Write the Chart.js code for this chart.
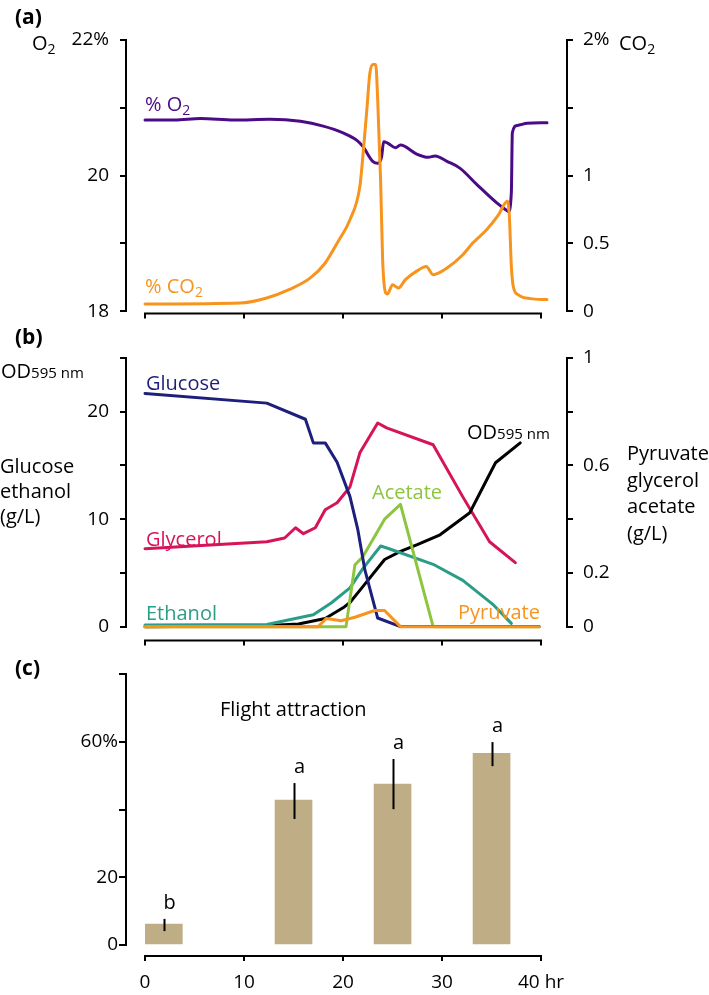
<!DOCTYPE html>
<html>
<head>
<meta charset="utf-8">
<script src="https://cdn.jsdelivr.net/npm/chart.js@4.4.1/dist/chart.umd.min.js"></script>
<style>
body { margin: 0; background: #fff; }
#wrap { position: relative; width: 709px; height: 995px; font-family: 'Open Sans', sans-serif; color: #000; overflow: hidden; }
canvas { position: absolute; left: 0; }
.t { position: absolute; line-height: 1; white-space: nowrap; transform: translateY(-50%); font-size: 20px; }
.b { font-weight: bold; font-size: 21px; }
sub { font-size: 0.7em; vertical-align: -0.3em; line-height: 0; }
.sm { font-size: 15px; }
</style>
</head>
<body>
<div id="wrap">
  <canvas id="chartA" width="709" height="335" style="top:0"></canvas>
  <canvas id="chartB" width="709" height="332" style="top:330px"></canvas>
  <canvas id="chartC" width="709" height="345" style="top:650px"></canvas>

  <div class="t b" style="left:15px;top:16px">(a)</div>
  <div class="t" style="left:32px;top:43px">O<sub>2</sub></div>
  <div class="t" style="left:619px;top:43px">CO<sub>2</sub></div>
  <div class="t" style="left:145px;top:104px;color:#4b0b86">% O<sub>2</sub></div>
  <div class="t" style="left:145px;top:286px;color:#f7941d">% CO<sub>2</sub></div>

  <div class="t b" style="left:15px;top:336px">(b)</div>
  <div class="t" style="left:1px;top:371px">OD<span class="sm">595 nm</span></div>
  <div class="t" style="left:0;top:490px;line-height:25px">Glucose<br>ethanol<br>(g/L)</div>
  <div class="t" style="left:146px;top:383px;color:#1e1f7c">Glucose</div>
  <div class="t" style="left:146px;top:539px;color:#d6145a">Glycerol</div>
  <div class="t" style="left:146px;top:613px;color:#2a9d87">Ethanol</div>
  <div class="t" style="left:467px;top:432px">OD<span class="sm">595 nm</span></div>
  <div class="t" style="left:372px;top:492px;color:#8cc63f">Acetate</div>
  <div class="t" style="left:458px;top:612px;color:#f7941d">Pyruvate</div>
  <div class="t" style="left:627px;top:493px;line-height:26.7px">Pyruvate<br>glycerol<br>acetate<br>(g/L)</div>

  <div class="t b" style="left:15px;top:667px">(c)</div>
  <div class="t" style="left:220px;top:709px">Flight attraction</div>
</div>

<script>
// time axis (hr)
var hrTicks = [0, 10, 20, 30, 40];
var hrLabelsC = ['0', '10', '20', '30', '40 hr'];

// (a) headspace gas
var tO2 = [0, 3, 5.6, 9, 12.6, 15.7, 18, 20, 21.4, 22, 23, 23.5, 23.9, 24.1, 24.5, 25.3, 25.8, 27.4, 28.6, 29.3, 30.5, 31.8, 33.5, 35.5, 36.4, 36.7, 37, 37.1, 37.6, 38.6, 40.6];
var pctO2 = [20.82, 20.82, 20.84, 20.82, 20.83, 20.8, 20.73, 20.63, 20.52, 20.43, 20.21, 20.18, 20.28, 20.5, 20.48, 20.41, 20.45, 20.32, 20.27, 20.29, 20.21, 20.11, 19.87, 19.6, 19.5, 19.47, 19.75, 20.63, 20.74, 20.77, 20.78];
var tCO2 = [0, 9.6, 12.3, 14.6, 16.7, 18.2, 19.5, 20.7, 21.7, 22.0, 22.4, 22.7, 23.0, 23.3, 23.5, 23.8, 24.0, 24.3, 24.5, 25.0, 25.6, 26.3, 27.4, 28.4, 29.1, 30.5, 32.1, 33.1, 34.5, 35.7, 36.6, 36.8, 37.0, 37.2, 37.7, 38.9, 40.6];
var pctCO2 = [0.053, 0.06, 0.097, 0.16, 0.245, 0.355, 0.514, 0.674, 0.92, 1.14, 1.48, 1.75, 1.82, 1.82, 1.56, 0.95, 0.38, 0.136, 0.127, 0.195, 0.171, 0.232, 0.293, 0.33, 0.269, 0.318, 0.416, 0.502, 0.6, 0.71, 0.81, 0.7, 0.33, 0.18, 0.12, 0.092, 0.085];
var o2Ticks = [18, 19, 20, 21, 22];
var o2Labels = ['18', '', '20', '', '22%'];
var co2Ticks = [0, 0.5, 1, 1.5, 2];
var co2Labels = ['0', '0.5', '1', '', '2%'];

// (b) metabolites
var tGlucose = [0, 12.3, 16.2, 17, 18.2, 19.4, 20.7, 21.5, 22.2, 23.5, 25.8, 39.8];
var glucose = [21.7, 20.8, 19.3, 17.1, 17.1, 15.3, 12.1, 9.0, 5.3, 0.8, 0, 0];
var tEthanol = [0, 12.3, 17, 18.8, 20.7, 22, 23.8, 24.8, 29.1, 32.1, 35.1, 37];
var ethanol = [0.15, 0.2, 1.1, 2.2, 3.6, 5.4, 7.5, 7.2, 5.8, 4.3, 2.1, 0.3];
var tGlycerol = [0, 12.3, 14.1, 15.2, 16, 17.2, 18.2, 19.4, 20.7, 21.7, 23.5, 24.4, 29.1, 32.1, 34.8, 37.4];
var glycerol = [0.29, 0.316, 0.33, 0.368, 0.346, 0.368, 0.435, 0.461, 0.52, 0.647, 0.758, 0.74, 0.677, 0.483, 0.316, 0.238];
var tOD = [0, 12, 15.5, 18.2, 20, 20.7, 22, 24.2, 25.8, 27.5, 29.8, 32.8, 35.4, 37.9];
var od595 = [0, 0.003, 0.01, 0.03, 0.07, 0.09, 0.149, 0.25, 0.28, 0.305, 0.342, 0.424, 0.61, 0.684];
var tAcetate = [0, 20.3, 21.2, 22, 24.2, 25.8, 29.1, 39.8];
var acetate = [0, 0, 0.23, 0.26, 0.4, 0.455, 0, 0];
var tPyruvate = [0, 17.5, 18.3, 19.8, 21.2, 23.2, 24.2, 25.8, 39.8];
var pyruvate = [0, 0, 0.03, 0.022, 0.035, 0.06, 0.06, 0, 0];
var gLTicks = [0, 5, 10, 15, 20, 25];
var gLLabels = ['0', '', '10', '', '20', ''];
var pyrTicks = [0, 0.2, 0.4, 0.6, 0.8, 1];
var pyrLabels = ['0', '0.2', '', '0.6', '', '1'];

// (c) flight attraction
var hrC = [1.9, 15, 25, 35];
var attraction = [6.2, 42.8, 47.5, 56.6];
var errLow = [4.1, 37.2, 40.1, 52.8];
var errHigh = [7.7, 47.8, 54.9, 59.9];
var sigLetters = ['b', 'a', 'a', 'a'];
var attTicks = [0, 20, 40, 60, 80];
var attLabels = ['0', '20', '', '60%', ''];

Chart.defaults.font.family = "'Open Sans', sans-serif";
Chart.defaults.font.size = 19;
Chart.defaults.color = '#000';

function pts(xs, ys) {
    return xs.map(function (x, i) { return { x: x, y: ys[i] }; });
}

// R-style axis lines, only between first and last tick
var axisLines = {
    id: 'axisLines',
    afterDraw: function (chart) {
        var ctx = chart.ctx;
        ctx.save();
        ctx.strokeStyle = '#000';
        ctx.lineWidth = 2;
        ctx.lineCap = 'square';
        Object.keys(chart.scales).forEach(function (id) {
            var s = chart.scales[id];
            var vals = s.ticks.map(function (t) { return t.value; });
            var a = s.getPixelForValue(Math.min.apply(null, vals));
            var b = s.getPixelForValue(Math.max.apply(null, vals));
            ctx.beginPath();
            if (s.isHorizontal()) {
                ctx.moveTo(a, s.top + 1); ctx.lineTo(b, s.top + 1);
            } else {
                var x = s.position == 'left' ? s.right - 1 : s.left + 1;
                ctx.moveTo(x, a); ctx.lineTo(x, b);
            }
            ctx.stroke();
        });
        ctx.restore();
    }
};

function xAxis(h, show, labels) {
    return {
        type: 'linear', min: -1.82, max: 42.52, offset: false,
        border: { display: false },
        grid: { drawOnChartArea: false, offset: false, tickLength: 6, color: '#000', lineWidth: 2 },
        afterBuildTicks: function (s) { s.ticks = hrTicks.map(function (v) { return { value: v }; }); },
        afterFit: function (s) { s.height = h; },
        ticks: { display: show, autoSkip: false, maxRotation: 0, padding: 10,
            callback: function (v, i) { return labels ? labels[i] : ''; } }
    };
}

function yAxis(pos, min, max, ticks, labels, w, tl, pad) {
    return {
        type: 'linear', position: pos, min: min, max: max,
        border: { display: false },
        grid: { drawOnChartArea: false, tickLength: tl, color: '#000', lineWidth: 2 },
        afterBuildTicks: function (s) { s.ticks = ticks.map(function (v) { return { value: v }; }); },
        afterFit: function (s) { s.width = w; },
        ticks: { autoSkip: false, padding: pad, callback: function (v, i) { return labels[i]; } }
    };
}

var baseOpts = {
    responsive: false,
    animation: false,
    plugins: { legend: { display: false }, tooltip: { enabled: false } },
    elements: { point: { radius: 0 } }
};

function line(data, color, axis, smooth) {
    return {
        data: data, yAxisID: axis, borderColor: color, borderWidth: 3,
        fill: false, pointRadius: 0, borderJoinStyle: 'round', borderCapStyle: 'round',
        tension: smooth ? 0.4 : 0, cubicInterpolationMode: smooth ? 'monotone' : 'default'
    };
}

new Chart('chartA', {
    type: 'line',
    data: {
        datasets: [
            line(pts(tCO2, pctCO2), '#f7941d', 'yR', true),
            line(pts(tO2, pctO2), '#4b0b86', 'yL', true)
        ]
    },
    options: Object.assign({}, baseOpts, {
        layout: { padding: { top: 40, bottom: 0, left: 0, right: 0 } },
        scales: {
            x: xAxis(22, false),
            yL: yAxis('left', 17.978, 22, o2Ticks, o2Labels, 127, 7, 11),
            yR: yAxis('right', -0.011, 2, co2Ticks, co2Labels, 143, 7, 10)
        }
    }),
    plugins: [axisLines]
});

new Chart('chartB', {
    type: 'line',
    data: {
        datasets: [
            line(pts(tPyruvate, pyruvate), '#f7941d', 'yR'),
            line(pts(tGlucose, glucose), '#1e1f7c', 'yL'),
            line(pts(tAcetate, acetate), '#8cc63f', 'yR'),
            line(pts(tEthanol, ethanol), '#2a9d87', 'yL'),
            line(pts(tOD, od595), '#000000', 'yR'),
            line(pts(tGlycerol, glycerol), '#d6145a', 'yR')
        ]
    },
    options: Object.assign({}, baseOpts, {
        layout: { padding: { top: 28, bottom: 0, left: 0, right: 0 } },
        scales: {
            x: xAxis(22, false),
            yL: yAxis('left', -1.208, 25, gLTicks, gLLabels, 127, 7, 11),
            yR: yAxis('right', -0.0483, 1, pyrTicks, pyrLabels, 143, 7, 10)
        }
    }),
    plugins: [axisLines]
});

// error bars and significance letters
var errorBars = {
    id: 'errorBars',
    afterDatasetsDraw: function (chart) {
        var ctx = chart.ctx, xs = chart.scales.x, ys = chart.scales.y;
        ctx.save();
        ctx.strokeStyle = '#000';
        ctx.lineWidth = 2;
        ctx.fillStyle = '#000';
        ctx.font = "20px 'Open Sans', sans-serif";
        ctx.textAlign = 'center';
        ctx.textBaseline = 'middle';
        hrC.forEach(function (h, i) {
            var x = Math.round(xs.getPixelForValue(h)) + 0.5;
            var top = ys.getPixelForValue(errHigh[i]);
            ctx.beginPath();
            ctx.moveTo(x, ys.getPixelForValue(errLow[i]));
            ctx.lineTo(x, top);
            ctx.stroke();
            ctx.fillText(sigLetters[i], x + 5, top - 16);
        });
        ctx.restore();
    }
};

new Chart('chartC', {
    type: 'bar',
    data: {
        datasets: [{
            data: pts(hrC, attraction),
            backgroundColor: '#bfae85',
            borderWidth: 0,
            barThickness: 37
        }]
    },
    options: Object.assign({}, baseOpts, {
        layout: { padding: { top: 24, bottom: 0, left: 0, right: 143 } },
        scales: {
            x: xAxis(40, true, hrLabelsC),
            y: yAxis('left', -2.95, 80, attTicks, attLabels, 127, 8, 1)
        }
    }),
    plugins: [axisLines, errorBars]
});
</script>
</body>
</html>
